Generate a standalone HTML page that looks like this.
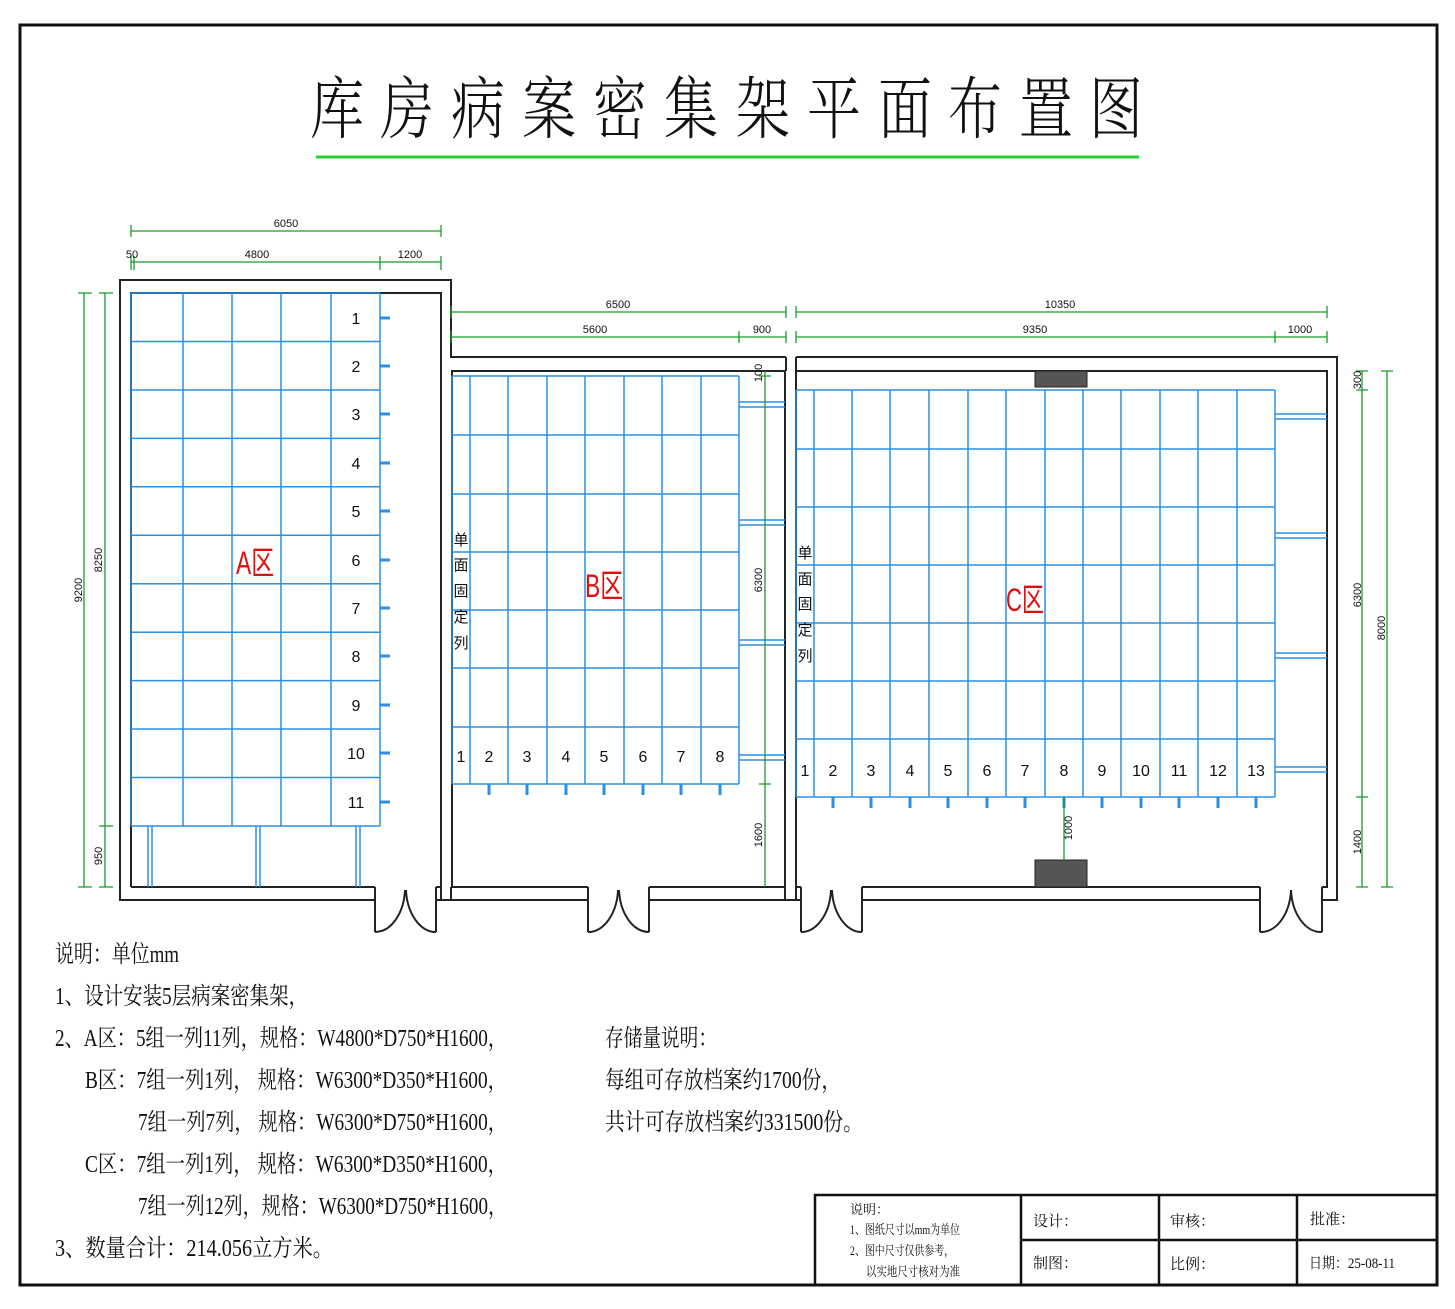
<!DOCTYPE html>
<html><head><meta charset="utf-8"><style>
html,body{margin:0;padding:0;background:#fff}
svg{display:block}
text{font-family:"Liberation Sans","Noto Sans CJK SC",sans-serif}
.s text,text.s{font-family:"Liberation Serif","Noto Serif CJK SC",serif}
.t text{font-family:"Noto Serif CJK SC","Liberation Serif",serif;font-weight:300}
.d{font-size:11px;fill:#111}
</style></head><body>
<svg width="1455" height="1309" viewBox="0 0 1455 1309" xmlns="http://www.w3.org/2000/svg">
<rect x="0" y="0" width="1455" height="1309" fill="#fff"/>
<rect x="20" y="25" width="1417" height="1260" fill="none" stroke="#111" stroke-width="3"/>
<g class="t" font-size="68" fill="#111">
<text x="310" y="133" textLength="54" lengthAdjust="spacingAndGlyphs">库</text>
<text x="380" y="133" textLength="54" lengthAdjust="spacingAndGlyphs">房</text>
<text x="451" y="133" textLength="54" lengthAdjust="spacingAndGlyphs">病</text>
<text x="522" y="133" textLength="54" lengthAdjust="spacingAndGlyphs">案</text>
<text x="593" y="133" textLength="54" lengthAdjust="spacingAndGlyphs">密</text>
<text x="664" y="133" textLength="54" lengthAdjust="spacingAndGlyphs">集</text>
<text x="736" y="133" textLength="54" lengthAdjust="spacingAndGlyphs">架</text>
<text x="807" y="133" textLength="54" lengthAdjust="spacingAndGlyphs">平</text>
<text x="878" y="133" textLength="54" lengthAdjust="spacingAndGlyphs">面</text>
<text x="948" y="133" textLength="54" lengthAdjust="spacingAndGlyphs">布</text>
<text x="1019" y="133" textLength="54" lengthAdjust="spacingAndGlyphs">置</text>
<text x="1089" y="133" textLength="54" lengthAdjust="spacingAndGlyphs">图</text>
</g>
<line x1="316" y1="157" x2="1139" y2="157" stroke="#2ecc2e" stroke-width="3"/>

<g fill="none" stroke="#222" stroke-width="2">
<path d="M375 900 H120 V280 H451 V295 M131 887 V293 H441 V887 H436 M131 887 H375"/>
<path d="M451 295 V357 H786 M796 357 H1337 V900 H1322 M786 357 V371 M796 357 V371"/>
<path d="M452 887 V371 H785 V887 H649 M588 887 H452"/>
<path d="M796 887 V371 H1327 V887 H1322 M1260 887 H862 M801 887 H796"/>
<path d="M436 900 H588 M649 900 H801 M862 900 H1260 M436 887 V900 M588 887 V900 M649 887 V900 M801 887 V900 M862 887 V900 M1260 887 V900 M1322 887 V900"/>
<path d="M451 887 V900 M441 887 V900 M785 887 V900 M796 887 V900"/>
<path d="M375 887 V932 M436 887 V932 M375 932 A30 45 0 0 0 405 890 M436 932 A30 45 0 0 1 406 890"/>
<path d="M588 887 V932 M649 887 V932 M588 932 A30 45 0 0 0 618 890 M649 932 A30 45 0 0 1 619 890"/>
<path d="M801 887 V932 M862 887 V932 M801 932 A30 45 0 0 0 831 890 M862 932 A30 45 0 0 1 832 890"/>
<path d="M1260 887 V932 M1322 887 V932 M1260 932 A30 45 0 0 0 1291 890 M1322 932 A30 45 0 0 1 1291 890"/>
</g>
<rect x="1035" y="371" width="52" height="16" fill="#555" stroke="#222"/>
<rect x="1035" y="860" width="52" height="27" fill="#555" stroke="#222"/>

<g fill="none" stroke="#2b8fe6" stroke-width="1.5">
<path d="M131 293 V826 M183 293 V826 M232 293 V826 M281 293 V826 M331 293 V826 M380 293 V826"/>
<path d="M131 293 H380 M131 341.5 H380 M131 390 H380 M131 438.4 H380 M131 486.8 H380 M131 535.3 H380 M131 583.7 H380 M131 632.2 H380 M131 680.6 H380 M131 729 H380 M131 777.5 H380 M131 826 H380"/>
<path d="M148 826 V887 M152 826 V887 M256 826 V887 M260 826 V887 M356 826 V887 M360 826 V887"/>
<path d="M380 318 H390 M380 366 H390 M380 414 H390 M380 463 H390 M380 511 H390 M380 560 H390 M380 608 H390 M380 656 H390 M380 705 H390 M380 753 H390 M380 802 H390" stroke-width="3"/>
<path d="M452 376 V784 M470 376 V784 M508 376 V784 M547 376 V784 M585 376 V784 M624 376 V784 M662 376 V784 M701 376 V784 M739 376 V784"/>
<path d="M452 376 H739 M452 435 H739 M452 494 H739 M452 552 H739 M452 610 H739 M452 668 H739 M452 727 H739 M452 784 H739"/>
<path d="M739 402 H785 M739 407 H785 M739 520 H785 M739 525 H785 M739 640 H785 M739 645 H785 M739 755 H785 M739 760 H785"/>
<path d="M489 784 V795 M527 784 V795 M566 784 V795 M604 784 V795 M643 784 V795 M681 784 V795 M720 784 V795" stroke-width="3"/>
<path d="M796 390 V797 M814 390 V797 M852 390 V797 M890 390 V797 M929 390 V797 M968 390 V797 M1006 390 V797 M1045 390 V797 M1083 390 V797 M1121 390 V797 M1160 390 V797 M1198 390 V797 M1237 390 V797 M1275 390 V797"/>
<path d="M796 390 H1275 M796 449 H1275 M796 507 H1275 M796 565 H1275 M796 623 H1275 M796 681 H1275 M796 739 H1275 M796 797 H1275"/>
<path d="M1275 414 H1327 M1275 419 H1327 M1275 533 H1327 M1275 538 H1327 M1275 653 H1327 M1275 658 H1327 M1275 767 H1327 M1275 772 H1327"/>
<path d="M833 797 V808 M871 797 V808 M910 797 V808 M948 797 V808 M987 797 V808 M1025 797 V808 M1064 797 V808 M1102 797 V808 M1141 797 V808 M1179 797 V808 M1218 797 V808 M1256 797 V808" stroke-width="3"/>
</g>

<g font-size="16" fill="#111" text-anchor="middle">
<text x="356" y="324">1</text><text x="356" y="372">2</text><text x="356" y="420">3</text><text x="356" y="469">4</text><text x="356" y="517">5</text><text x="356" y="566">6</text><text x="356" y="614">7</text><text x="356" y="662">8</text><text x="356" y="711">9</text><text x="356" y="759">10</text><text x="356" y="808">11</text>
<text x="461" y="762">1</text><text x="489" y="762">2</text><text x="527" y="762">3</text><text x="566" y="762">4</text><text x="604" y="762">5</text><text x="643" y="762">6</text><text x="681" y="762">7</text><text x="720" y="762">8</text>
<text x="805" y="776">1</text><text x="833" y="776">2</text><text x="871" y="776">3</text><text x="910" y="776">4</text><text x="948" y="776">5</text><text x="987" y="776">6</text><text x="1025" y="776">7</text><text x="1064" y="776">8</text><text x="1102" y="776">9</text><text x="1141" y="776">10</text><text x="1179" y="776">11</text><text x="1218" y="776">12</text><text x="1256" y="776">13</text>
</g>
<g font-size="15" fill="#111" text-anchor="middle">
<text x="461" y="545">单</text><text x="461" y="570">面</text><text x="461" y="596">固</text><text x="461" y="622">定</text><text x="461" y="648">列</text>
<text x="805" y="558">单</text><text x="805" y="584">面</text><text x="805" y="609">固</text><text x="805" y="635">定</text><text x="805" y="661">列</text>
</g>
<g font-size="32" fill="#e01010">
<text x="236" y="574" textLength="38" lengthAdjust="spacingAndGlyphs">A区</text>
<text x="585" y="597" textLength="38" lengthAdjust="spacingAndGlyphs">B区</text>
<text x="1006" y="611" textLength="38" lengthAdjust="spacingAndGlyphs">C区</text>
</g>

<g fill="none" stroke="#1a9a2a" stroke-width="1.3">
<path d="M131 231 H441 M131 225 V237 M441 225 V237"/>
<path d="M131 262 H441 M131 256 V270 M134 256 V270 M380 256 V270 M441 256 V270"/>
<path d="M84 293 V887 M78 293 H92 M78 887 H92 M105 293 V887 M99 293 H113 M99 826 H113 M99 887 H113"/>
<path d="M451 312 H786 M451 306 V318 M786 306 V318 M451 337 H786 M451 331 V343 M739 331 V343 M786 331 V343"/>
<path d="M796 312 H1327 M796 306 V318 M1327 306 V318 M796 337 H1327 M796 331 V343 M1275 331 V343 M1327 331 V343"/>
<path d="M765 371 V887 M759 376 H771 M759 784 H771"/>
<path d="M1362 371 V887 M1356 371 H1368 M1356 390 H1368 M1356 797 H1368 M1356 887 H1368 M1387 371 V887 M1381 371 H1393 M1381 887 H1393"/>
<path d="M1064 797 V860"/>
</g>
<g class="d" text-anchor="middle">
<text x="286" y="227">6050</text><text x="132" y="258">50</text><text x="257" y="258">4800</text><text x="410" y="258">1200</text>
<text x="618" y="308">6500</text><text x="595" y="333">5600</text><text x="762" y="333">900</text>
<text x="1060" y="308">10350</text><text x="1035" y="333">9350</text><text x="1300" y="333">1000</text>
<text transform="translate(82 590) rotate(-90)">9200</text>
<text transform="translate(102 560) rotate(-90)">8250</text>
<text transform="translate(102 856) rotate(-90)">950</text>
<text transform="translate(762 373) rotate(-90)">100</text>
<text transform="translate(762 580) rotate(-90)">6300</text>
<text transform="translate(762 835) rotate(-90)">1600</text>
<text transform="translate(1361 380) rotate(-90)">300</text>
<text transform="translate(1361 595) rotate(-90)">6300</text>
<text transform="translate(1361 842) rotate(-90)">1400</text>
<text transform="translate(1385 628) rotate(-90)">8000</text>
<text transform="translate(1072 828) rotate(-90)">1000</text>
</g>

<g class="s" font-size="24" fill="#111">
<text x="55" y="962" textLength="124" lengthAdjust="spacingAndGlyphs">说明：单位mm</text>
<text x="55" y="1004" textLength="253" lengthAdjust="spacingAndGlyphs">1、设计安装5层病案密集架，</text>
<text x="55" y="1046" textLength="452" lengthAdjust="spacingAndGlyphs">2、A区：5组一列11列，规格：W4800*D750*H1600，</text>
<text x="85" y="1088" textLength="422" lengthAdjust="spacingAndGlyphs">B区：7组一列1列， 规格：W6300*D350*H1600，</text>
<text x="138" y="1130" textLength="369" lengthAdjust="spacingAndGlyphs">7组一列7列， 规格：W6300*D750*H1600，</text>
<text x="85" y="1172" textLength="422" lengthAdjust="spacingAndGlyphs">C区：7组一列1列， 规格：W6300*D350*H1600，</text>
<text x="138" y="1214" textLength="369" lengthAdjust="spacingAndGlyphs">7组一列12列，规格：W6300*D750*H1600，</text>
<text x="55" y="1256" textLength="278" lengthAdjust="spacingAndGlyphs">3、数量合计：214.056立方米。</text>
<text x="605" y="1046" textLength="112" lengthAdjust="spacingAndGlyphs">存储量说明：</text>
<text x="605" y="1088" textLength="236" lengthAdjust="spacingAndGlyphs">每组可存放档案约1700份，</text>
<text x="605" y="1130" textLength="258" lengthAdjust="spacingAndGlyphs">共计可存放档案约331500份。</text>
</g>

<g fill="none" stroke="#111" stroke-width="2.5">
<rect x="815" y="1195" width="622" height="90"/>
<path d="M1021 1195 V1285 M1159 1195 V1285 M1297 1195 V1285 M1021 1240 H1437"/>
</g>
<g class="s" font-size="13" fill="#111">
<text x="850" y="1214">说明：</text>
<text x="850" y="1234" textLength="110" lengthAdjust="spacingAndGlyphs">1、图纸尺寸以mm为单位</text>
<text x="850" y="1255" textLength="104" lengthAdjust="spacingAndGlyphs">2、图中尺寸仅供参考，</text>
<text x="866" y="1276" textLength="94" lengthAdjust="spacingAndGlyphs">以实地尺寸核对为准</text>
</g>
<g class="s" font-size="15" fill="#111">
<text x="1033" y="1226">设计：</text><text x="1170" y="1226">审核：</text><text x="1310" y="1224">批准：</text>
<text x="1033" y="1268">制图：</text><text x="1170" y="1269">比例：</text><text x="1309" y="1268" textLength="86" lengthAdjust="spacingAndGlyphs">日期：25-08-11</text>
</g>
</svg>
</body></html>
